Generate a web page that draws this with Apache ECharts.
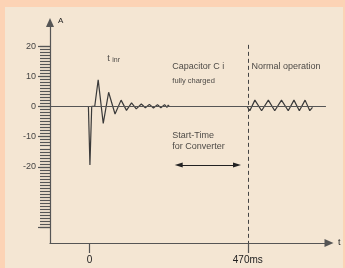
<!DOCTYPE html>
<html><head><meta charset="utf-8">
<script src="https://cdn.jsdelivr.net/npm/echarts@6/dist/echarts.min.js"></script>
<style>html,body{margin:0;padding:0;background:#fcd3b5}#c{width:345px;height:268px}</style>
</head><body><div id="c"></div>
<script>
// Inrush transient (time in ms, current in A)
const waveT = [-3, 1.5, 6.8, 15.7, 26, 41, 57, 76, 94, 110, 125, 139, 154, 166, 178, 190, 202, 212, 223, 230, 234, 237];
const waveA = [0, -19.4, 0, 0, 8.8, -5.6, 4.7, -2.5, 2.1, -1.3, 1.2, -0.8, 0.8, -0.4, 0.7, -0.5, 0.6, -0.4, 0.6, -0.3, 0.5, 0];
// Normal operation ripple
const normalT = [468, 476, 491, 511, 531, 550, 570, 590, 607, 623, 640, 654, 662];
const normalA = [0, -1.4, 2.1, -1.4, 2.1, -1.4, 2.1, -1.4, 2.1, -1.4, 2.1, -1.4, -0.3];
// Axes
const xRange = [-117, 711];
const yRange = [-45.2, 27.8];
const xTicks = [0, 470];
const xTickLabels = ['0', '470ms'];
const yMajorTicks = [20, 10, 0, -10, -20, -40];
const yLabels = [20, 10, 0, -10, -20];
const yMinorTicks = [];
for (let v = -40; v <= 20; v++) yMinorTicks.push(v);
// Reference lines
const markerTimes = [233, 470];
const markerTop = 20.4;
const markerBottom = [-48.8, yRange[0]];
const zeroLineSpan = [xRange[0], 702];
const startTimeSpan = [265, 438];
const startTimeLevel = -19.4;
// Annotations: [t, A, text]
const annotations = [
  [53, 15.9, 't inr'],
  [246, 13.2, 'Capacitor C i'],
  [246, 8.5, 'fully charged'],
  [481, 13.2, 'Normal operation'],
  [246, -9.6, 'Start-Time'],
  [246, -13.4, 'for Converter']
];

const ink = '#3a3a3a';
const axisCol = '#555';
const textCol = '#222';
const font = 'Liberation Sans, Arial, sans-serif';

const chart = echarts.init(document.getElementById('c'), null, {renderer: 'canvas'});
const dashed = {color: '#444', width: 1, type: [4, 3]};
const markData = [
  [{coord: [markerTimes[0], markerTop], symbol: 'none', lineStyle: dashed}, {coord: [markerTimes[0], markerBottom[0]], symbol: 'none'}],
  [{coord: [markerTimes[1], markerTop], symbol: 'none', lineStyle: dashed}, {coord: [markerTimes[1], markerBottom[1]], symbol: 'none'}],
  [{coord: [zeroLineSpan[0], 0], symbol: 'none', lineStyle: {color: axisCol, width: 1, type: 'solid'}}, {coord: [zeroLineSpan[1], 0], symbol: 'none'}],
  [{coord: [startTimeSpan[0], startTimeLevel], symbol: 'triangle', symbolSize: [5, 8], lineStyle: {color: '#222', width: 1, type: 'solid'}},
   {coord: [startTimeSpan[1], startTimeLevel], symbol: 'triangle', symbolSize: [5, 8]}]
];

chart.setOption({
  animation: false,
  backgroundColor: '#fcd3b5',
  graphic: [{type: 'rect', z: -10, silent: true, shape: {x: 5, y: 7, width: 338, height: 261}, style: {fill: '#f4e6d3'}}],
  grid: {left: 50, right: 16, top: 22.5, bottom: 25, outerBoundsMode: 'none'},
  xAxis: {
    type: 'value', min: xRange[0], max: xRange[1],
    axisLine: {onZero: false, symbol: ['none', 'triangle'], symbolSize: [8, 9], lineStyle: {color: axisCol, width: 1.2}},
    axisTick: {customValues: xTicks, length: 10, lineStyle: {color: axisCol, width: 1.2}},
    axisLabel: {customValues: xTicks, margin: 12, fontSize: 10, color: textCol, fontFamily: font,
      formatter: v => xTickLabels[xTicks.indexOf(v)]},
    splitLine: {show: false},
    name: 't', nameLocation: 'end', nameGap: 9,
    nameTextStyle: {fontSize: 9, color: textCol, fontFamily: font}
  },
  yAxis: [{
    type: 'value', min: yRange[0], max: yRange[1],
    axisLine: {onZero: false, symbol: ['none', 'triangle'], symbolSize: [8, 9], lineStyle: {color: axisCol, width: 1.2}},
    axisTick: {customValues: yMajorTicks, length: 12, lineStyle: {color: axisCol, width: 1.2}},
    axisLabel: {customValues: yLabels, margin: 14, fontSize: 9, color: '#444', fontFamily: font},
    splitLine: {show: false},
    name: 'A', nameLocation: 'end', nameGap: 2,
    nameTextStyle: {fontSize: 8, color: textCol, fontFamily: font, align: 'left', verticalAlign: 'middle', padding: [0, 0, 0, 8]}
  }, {
    type: 'value', min: yRange[0], max: yRange[1], position: 'left',
    axisLine: {show: false, onZero: false},
    axisTick: {customValues: yMinorTicks, length: 10, lineStyle: {color: axisCol, width: 1.2}},
    axisLabel: {show: false},
    splitLine: {show: false}
  }],
  series: [{
    type: 'line', clip: false, showSymbol: false, symbol: 'none',
    data: waveT.map((t, i) => [t, waveA[i]]),
    lineStyle: {color: ink, width: 1.2},
    markLine: {silent: true, animation: false, label: {show: false}, data: markData}
  }, {
    type: 'line', clip: false, showSymbol: false, symbol: 'none',
    data: normalT.map((t, i) => [t, normalA[i]]),
    lineStyle: {color: ink, width: 1.2}
  }, {
    type: 'scatter', symbolSize: 0, silent: true,
    data: annotations.map(a => ({value: [a[0], a[1]], name: a[2]})),
    label: {
      show: true, position: 'right', distance: 0, color: textCol, fontFamily: font, fontSize: 9,
      formatter: p => p.name === 't inr' ? '{a|t} {b|inr}' : (p.name === 'fully charged' ? '{s|' + p.name + '}' : p.name),
      rich: {a: {fontSize: 9, color: textCol, fontFamily: font}, b: {fontSize: 7, color: textCol, fontFamily: font, padding: [4, 0, 0, 0]},
             s: {fontSize: 7.5, color: textCol, fontFamily: font}}
    }
  }]
});
</script></body></html>
